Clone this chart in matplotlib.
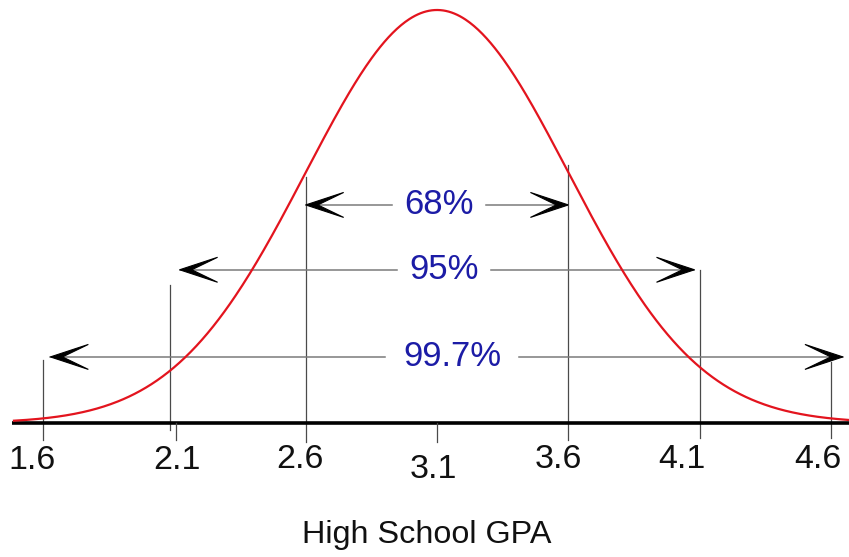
import numpy as np
import matplotlib
matplotlib.use("Agg")
import matplotlib.pyplot as plt
from matplotlib.patches import Polygon

# normal curve of high school GPA
mean_gpa = 3.1
sd_gpa = 0.5

tick_values = [1.6, 2.1, 2.6, 3.1, 3.6, 4.1, 4.6]
tick_labels = ['1.6', '2.1', '2.6', '3.1', '3.6', '4.1', '4.6']

# vertical guide lines: gpa, top (fraction of peak height), bottom
guide_gpa = [1.6, 2.083, 2.6, 3.6, 4.1, 4.6]
guide_top = [0.153, 0.334, 0.595, 0.625, 0.370, 0.148]
guide_bottom = [-0.041, -0.017, -0.045, -0.041, -0.037, -0.037]

# percent bands: label, arrow height, left tip, right tip
band_labels = ['68%', '95%', '99.7%']
band_height = [0.528, 0.371, 0.160]
band_left = [2.60, 2.12, 1.628]
band_right = [3.60, 4.08, 4.645]

# layout in pixels (figure is 849 x 557)
W, H = 849, 557
X0_PX, PX_PER_GPA = 43, 262.7
BASE_PX, PEAK_PX = 423, 10
UNIT = BASE_PX - PEAK_PX


def px_x(p):
    return 1.6 + (p - X0_PX) / PX_PER_GPA


def px_y(p):
    return (BASE_PX - p) / UNIT


fig = plt.figure(figsize=(W / 100, H / 100), dpi=100)
ax = fig.add_axes([0, 0, 1, 1])
ax.set_xlim(px_x(0), px_x(W))
ax.set_ylim(px_y(H), px_y(0))
ax.axis('off')

font = 'Liberation Sans'

# baseline
ax.plot([px_x(12), px_x(W)], [0, 0], color='black', lw=2.6, solid_capstyle='butt', zorder=2)

# guide lines
for g, t, b in zip(guide_gpa, guide_top, guide_bottom):
    ax.plot([g, g], [b, t], color='#4a4a4a', lw=0.9, zorder=1)
# small ticks below the baseline
ax.plot([px_x(176)] * 2, [0, px_y(440)], color='#4a4a4a', lw=0.9)
ax.plot([mean_gpa] * 2, [0, px_y(442)], color='#4a4a4a', lw=0.9)

# curve
x = np.linspace(px_x(14), px_x(W + 5), 600)
y = np.exp(-0.5 * ((x - mean_gpa) / sd_gpa) ** 2)
ax.plot(x, y, color='#e3141e', lw=1.6, zorder=3)

# tick labels
label_dx = [-11, 3, -6, -4, -10, -18, -13]
label_base = [469, 469, 468, 478, 468, 468, 468]
for v, s, dx, yb in zip(tick_values, tick_labels, label_dx, label_base):
    ax.text(v + dx / PX_PER_GPA, px_y(yb), s, ha='center', va='baseline',
            fontsize=24.5, family=font, color='#111111')

ax.text(px_x(427), px_y(543), 'High School GPA', ha='center', va='baseline',
        fontsize=23.3, family=font, color='#111111')


def arrow_head(tip, yv, direction):
    L = 38 / PX_PER_GPA
    h = 12.5 / UNIT
    d = direction
    pts = [(tip, yv), (tip + d * L, yv + h), (tip + d * 0.32 * L, yv),
           (tip + d * L, yv - h)]
    ax.add_patch(Polygon(pts, closed=True, facecolor='black', edgecolor='black',
                         lw=0.8, zorder=4))


text_cx = [439, 444, 452]
gap_half = [47, 47, 67]
for lab, hy, lt, rt, cx, gh in zip(band_labels, band_height, band_left, band_right,
                                   text_cx, gap_half):
    ax.plot([lt, px_x(cx - gh)], [hy, hy], color='#7a7a7a', lw=1.1, zorder=2)
    ax.plot([px_x(cx + gh), rt], [hy, hy], color='#7a7a7a', lw=1.1, zorder=2)
    arrow_head(lt, hy, 1)
    arrow_head(rt, hy, -1)
    ax.text(px_x(cx), hy, lab, ha='center', va='center', fontsize=25,
            family=font, color='#1c1ca6', zorder=5)

fig.savefig('out.png', dpi=100)
